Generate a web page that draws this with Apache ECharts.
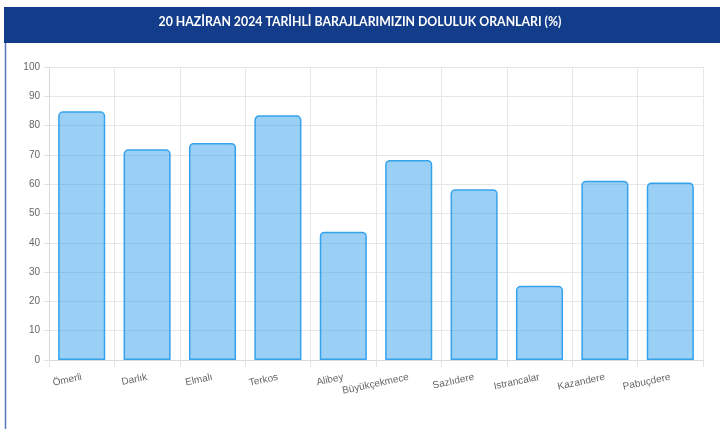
<!DOCTYPE html>
<html>
<head>
<meta charset="utf-8">
<script src="https://cdn.jsdelivr.net/npm/echarts@6/dist/echarts.min.js"></script>
<style>
  html, body { margin: 0; padding: 0; background: #fff; }
  #chart { width: 720px; height: 429px; }
</style>
</head>
<body>
<div id="chart"></div>
<script>
// Dam names and fill ratios (%) on 20 June 2024
const dams = ['Ömerli', 'Darlık', 'Elmalı', 'Terkos', 'Alibey', 'Büyükçekmece', 'Sazlıdere', 'Istrancalar', 'Kazandere', 'Pabuçdere'];
const fillRates = [84.9, 71.9, 74.1, 83.5, 43.8, 68.3, 58.3, 25.3, 61.2, 60.6];
const titleText = '20 HAZİRAN 2024 TARİHLİ BARAJLARIMIZIN DOLULUK ORANLARI (%)';

const chart = echarts.init(document.getElementById('chart'), null, { renderer: 'canvas' });

chart.setOption({
  animation: false,
  backgroundColor: '#ffffff',
  title: {
    text: titleText,
    left: 'center',
    top: 11,
    textStyle: {
      color: '#ffffff',
      fontFamily: 'Lato',
      fontWeight: 'bold',
      fontSize: 12.3
    }
  },
  graphic: [
    {
      type: 'rect',
      z: -1,
      shape: { x: 4, y: 7, width: 716, height: 36 },
      style: { fill: '#133d8a' }
    },
    {
      type: 'line',
      z: -1,
      shape: { x1: 5.5, y1: 43, x2: 5.5, y2: 429 },
      style: { stroke: '#5a78b8', lineWidth: 1.5 }
    }
  ],
  grid: {
    left: 49,
    right: 17,
    top: 67,
    bottom: 69,
    containLabel: false
  },
  xAxis: {
    type: 'category',
    data: dams,
    boundaryGap: true,
    axisLine: { lineStyle: { color: '#d9d9d9', width: 1 } },
    axisTick: { show: true, length: 7, lineStyle: { color: '#e3e3e3' } },
    splitLine: { show: true, lineStyle: { color: '#e6e6e6', width: 1 } },
    axisLabel: {
      rotate: 12,
      margin: 17,
      color: '#666666',
      fontFamily: 'Liberation Sans',
      fontSize: 10,
      interval: 0
    }
  },
  yAxis: {
    type: 'value',
    min: 0,
    max: 100,
    interval: 10,
    axisLine: { show: true, lineStyle: { color: '#d9d9d9', width: 1 } },
    axisTick: { show: true, length: 5, lineStyle: { color: '#e3e3e3' } },
    splitLine: { show: true, lineStyle: { color: '#e6e6e6', width: 1 } },
    axisLabel: {
      margin: 9,
      color: '#666666',
      fontFamily: 'Liberation Sans',
      fontSize: 10
    }
  },
  series: [
    {
      type: 'bar',
      data: fillRates,
      barWidth: '72%',
      itemStyle: {
        color: 'rgba(54, 162, 235, 0.5)',
        borderColor: 'rgb(54, 162, 235)',
        borderWidth: 1.5,
        borderRadius: [4, 4, 0, 0]
      }
    }
  ]
});
</script>
</body>
</html>
